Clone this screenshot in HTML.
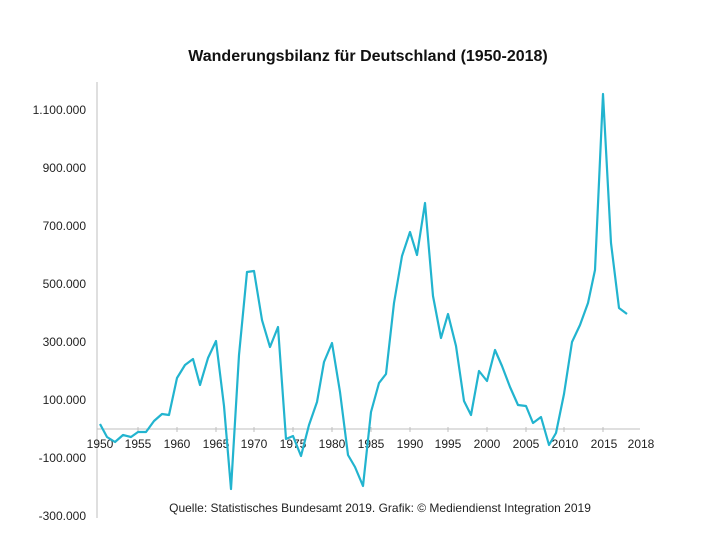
<!DOCTYPE html>
<html><head><meta charset="utf-8"><style>
html,body{margin:0;padding:0;background:#fff;}
svg{display:block;font-family:"Liberation Sans","DejaVu Sans",sans-serif;}
</style></head><body>
<svg width="725" height="534" viewBox="0 0 725 534">
<text x="368" y="61" text-anchor="middle" font-size="16" font-weight="bold" fill="#111">Wanderungsbilanz für Deutschland (1950-2018)</text>
<g stroke="#bfbfbf" stroke-width="1" fill="none">
<line x1="97" y1="82" x2="97" y2="518"/>
<line x1="97" y1="429" x2="640" y2="429"/>
<line x1="177" y1="427" x2="177" y2="432"/>
<line x1="254" y1="427" x2="254" y2="432"/>
<line x1="332" y1="427" x2="332" y2="432"/>
<line x1="410" y1="427" x2="410" y2="432"/>
<line x1="487" y1="427" x2="487" y2="432"/>
<line x1="564" y1="427" x2="564" y2="432"/>
<line x1="138" y1="427" x2="138" y2="432"/>
<line x1="216" y1="427" x2="216" y2="432"/>
<line x1="293" y1="427" x2="293" y2="432"/>
<line x1="371" y1="427" x2="371" y2="432"/>
<line x1="448" y1="427" x2="448" y2="432"/>
<line x1="526" y1="427" x2="526" y2="432"/>
<line x1="603" y1="427" x2="603" y2="432"/>
</g>
<g font-size="12" fill="#222" text-anchor="end">
<text x="86" y="114">1.100.000</text>
<text x="86" y="172">900.000</text>
<text x="86" y="230">700.000</text>
<text x="86" y="288">500.000</text>
<text x="86" y="346">300.000</text>
<text x="86" y="404">100.000</text>
<text x="86" y="462">-100.000</text>
<text x="86" y="520">-300.000</text>
</g>
<g font-size="12" fill="#222" text-anchor="middle">
<text x="100" y="448">1950</text><text x="138" y="448">1955</text><text x="177" y="448">1960</text>
<text x="216" y="448">1965</text><text x="254" y="448">1970</text><text x="293" y="448">1975</text>
<text x="332" y="448">1980</text><text x="371" y="448">1985</text><text x="410" y="448">1990</text>
<text x="448" y="448">1995</text><text x="487" y="448">2000</text><text x="526" y="448">2005</text>
<text x="565" y="448">2010</text><text x="604" y="448">2015</text><text x="641" y="448">2018</text>
</g>
<polyline fill="none" stroke="#22b4cf" stroke-width="2.2" stroke-linejoin="round" points="100,424 107,437 115,442 123,435 131,437 138,432 146,432 154,421 162,414 169,415 177,378 185,365 193,359 200,385 208,358 216,341 224,406 231,489 239,355 247,272 254,271 262,320 270,347 278,327 286,439 293,436 301,456 309,425 317,402 324,362 332,343 340,392 348,455 355,467 363,486 371,412 379,383 386,374 394,303 402,256 410,232 417,255 425,203 433,296 441,338 448,314 456,346 464,401 471,415 479,371 487,381 495,350 502,366 510,387 518,405 526,406 533,423 541,417 549,445 556,433 564,394 572,342 580,325 588,303 595,270 603,94 611,243 619,308 627,314"/>
<text x="380" y="512" text-anchor="middle" font-size="12" fill="#222">Quelle: Statistisches Bundesamt 2019. Grafik: © Mediendienst Integration 2019</text>
</svg>
</body></html>
